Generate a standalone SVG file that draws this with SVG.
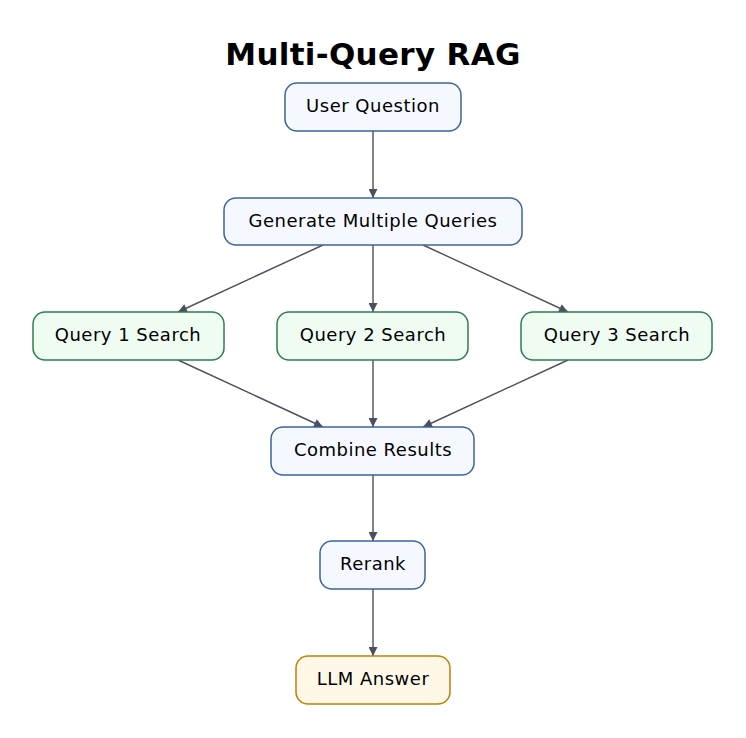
<svg xmlns="http://www.w3.org/2000/svg" width="746" height="738" viewBox="0 0 746 738">
<style>
text{font-family:"DejaVu Sans",sans-serif;font-size:18px;letter-spacing:0.5px;text-anchor:middle;dominant-baseline:central;fill:#000}
.b rect{fill:#f5f9ff;stroke:#3a64a0;stroke-width:1.5}
.g rect{fill:#effcf2;stroke:#2e7d50;stroke-width:1.5}
.o rect{fill:#fff8e8;stroke:#c08000;stroke-width:1.5}
#edges path{stroke:#4a5060;stroke-width:1.4;fill:none;marker-end:url(#a)}
</style>
<defs><marker id="a" viewBox="0 0 10 10" refX="10" refY="5" markerWidth="10" markerHeight="9" orient="auto" markerUnits="userSpaceOnUse"><path d="M0,0L10,5L0,10z" fill="#4a5060"/></marker></defs>
<rect width="746" height="738" fill="#fff"/>
<text x="373" y="54" style="font-size:31px;font-weight:bold;letter-spacing:0.3px">Multi-Query RAG</text>
<g id="edges">
<path d="M373,131V198"/>
<path d="M323,245L178,312"/>
<path d="M373,245V312"/>
<path d="M423,245L568,312"/>
<path d="M178,360L323,427"/>
<path d="M373,360V427"/>
<path d="M568,360L423,427"/>
<path d="M373,475V541"/>
<path d="M373,589V656"/>
</g>
<g id="n1" class="b"><rect x="285" y="83" width="176" height="48" rx="12"/><text x="373" y="105">User Question</text></g>
<g id="n2" class="b"><rect x="224" y="198" width="298" height="47" rx="12"/><text x="373" y="220">Generate Multiple Queries</text></g>
<g id="n3" class="g"><rect x="33" y="312" width="191" height="48" rx="12"/><text x="128" y="334">Query 1 Search</text></g>
<g id="n4" class="g"><rect x="277" y="312" width="191" height="48" rx="12"/><text x="373" y="334">Query 2 Search</text></g>
<g id="n5" class="g"><rect x="521" y="312" width="191" height="48" rx="12"/><text x="617" y="334">Query 3 Search</text></g>
<g id="n6" class="b"><rect x="271" y="427" width="203" height="48" rx="12"/><text x="373" y="449">Combine Results</text></g>
<g id="n7" class="b"><rect x="320" y="541" width="105" height="48" rx="12"/><text x="373" y="563">Rerank</text></g>
<g id="n8" class="o"><rect x="296" y="656" width="154" height="48" rx="12"/><text x="373" y="678">LLM Answer</text></g>
</svg>
